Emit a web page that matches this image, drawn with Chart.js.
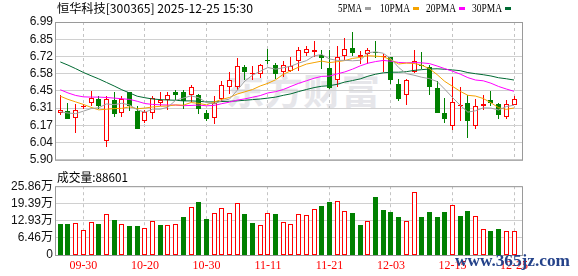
<!DOCTYPE html>
<html>
<head>
<meta charset="utf-8">
<script src="https://cdn.jsdelivr.net/npm/chart.js@4.4.1/dist/chart.umd.min.js"></script>
<style>
html, body { margin: 0; padding: 0; background: #fff; }
#wrap { position: relative; width: 578px; height: 276px; overflow: hidden; }
canvas { position: absolute; left: 0; }
.t { position: absolute; white-space: nowrap; transform-origin: 0 50%; }
.sw { position: absolute; top: 7px; width: 6px; height: 3px; }
</style>
</head>
<body>
<div id="wrap">
  <div id="wm" class="t" style="left:226px;top:70px;font:bold 36px/38px 'Noto Sans CJK SC';color:#e6e6ea;">东方财富</div>
  <canvas id="price" width="578" height="170" style="top:0"></canvas>
  <canvas id="vol" width="578" height="100" style="top:176px"></canvas>
  <div id="title" class="t" style="left:57px;top:1px;font:12px/14px 'Noto Sans CJK SC';color:#000;">恒华科技[300365] 2025-12-25 15:30</div>
  <div id="lg5" class="t" style="left:338px;top:1px;font:12px/14px 'Liberation Serif';">5PMA</div>
  <div class="sw" style="left:365px;background:#a0a0a0"></div>
  <div id="lg10" class="t" style="left:380px;top:1px;font:12px/14px 'Liberation Serif';">10PMA</div>
  <div class="sw" style="left:413px;background:#f5a300"></div>
  <div id="lg20" class="t" style="left:426px;top:1px;font:12px/14px 'Liberation Serif';">20PMA</div>
  <div class="sw" style="left:459px;background:#ff00ff"></div>
  <div id="lg30" class="t" style="left:472px;top:1px;font:12px/14px 'Liberation Serif';">30PMA</div>
  <div class="sw" style="left:505px;background:#006a33"></div>
  <div id="vtxt" class="t" style="left:57px;top:170px;font:12px/14px 'Noto Sans CJK SC';color:#000;">成交量:88601</div>
  <div id="site" class="t" style="left:455px;top:251px;font:bold 17px/19px 'Liberation Serif';color:#24428a;">www.365jz.com</div>
</div>
<script>
// tick labels
const tickIdx = [3, 11, 19, 27, 35, 43, 51, 59];
const tickDates = ['09-30', '10-20', '10-30', '11-11', '11-21', '12-03', '12-15', '12-25'];
const priceTickLabels = ['5.90', '6.04', '6.17', '6.31', '6.45', '6.58', '6.72', '6.85', '6.99'];
const volTickLabels = ['0', '6.46万', '12.93万', '19.39万', '25.86万'];

// daily candles
const open = [6.272, 6.287, 6.234, 6.315, 6.348, 6.378, 6.045, 6.373, 6.272, 6.434,
  6.285, 6.206, 6.272, 6.353, 6.373, 6.434, 6.439, 6.414, 6.414, 6.267,
  6.227, 6.378, 6.474, 6.474, 6.631, 6.575, 6.575, 6.692, 6.649, 6.593,
  6.601, 6.682, 6.745, 6.750, 6.732, 6.623, 6.530, 6.720, 6.783, 6.717,
  6.737, 6.755, 6.712, 6.712, 6.500, 6.416, 6.593, 6.649, 6.631, 6.464,
  6.267, 6.171, 6.323, 6.348, 6.171, 6.323, 6.373, 6.340, 6.239, 6.333];
const high = [6.414, 6.348, 6.340, 6.340, 6.446, 6.403, 6.403, 6.439, 6.403, 6.439,
  6.328, 6.297, 6.403, 6.439, 6.434, 6.449, 6.449, 6.494, 6.421, 6.297,
  6.403, 6.525, 6.593, 6.707, 6.649, 6.644, 6.661, 6.775, 6.666, 6.682,
  6.712, 6.795, 6.803, 6.841, 6.765, 6.765, 6.800, 6.866, 6.909, 6.762,
  6.783, 6.841, 6.737, 6.712, 6.537, 6.543, 6.765, 6.752, 6.649, 6.522,
  6.391, 6.555, 6.479, 6.409, 6.378, 6.414, 6.441, 6.348, 6.373, 6.403];
const low = [6.257, 6.224, 6.110, 6.302, 6.325, 6.302, 6.004, 6.239, 6.239, 6.285,
  6.141, 6.194, 6.224, 6.328, 6.290, 6.373, 6.302, 6.358, 6.262, 6.206,
  6.181, 6.358, 6.421, 6.454, 6.530, 6.535, 6.550, 6.661, 6.543, 6.555,
  6.593, 6.606, 6.720, 6.712, 6.618, 6.459, 6.479, 6.687, 6.720, 6.656,
  6.661, 6.707, 6.593, 6.497, 6.363, 6.333, 6.588, 6.618, 6.414, 6.269,
  6.194, 6.133, 6.206, 6.072, 6.141, 6.297, 6.328, 6.221, 6.224, 6.333];
const close = [6.295, 6.224, 6.295, 6.323, 6.388, 6.328, 6.378, 6.262, 6.378, 6.323,
  6.141, 6.277, 6.386, 6.373, 6.409, 6.411, 6.363, 6.472, 6.302, 6.219,
  6.353, 6.492, 6.535, 6.644, 6.593, 6.583, 6.649, 6.679, 6.580, 6.651,
  6.644, 6.770, 6.773, 6.770, 6.709, 6.467, 6.712, 6.778, 6.747, 6.732,
  6.768, 6.747, 6.720, 6.530, 6.383, 6.530, 6.682, 6.639, 6.474, 6.269,
  6.224, 6.358, 6.330, 6.206, 6.323, 6.340, 6.348, 6.252, 6.340, 6.378];

// moving averages as drawn
const ma5 = [6.280, 6.270, 6.265, 6.285, 6.305, 6.312, 6.342, 6.336, 6.347, 6.334,
  6.296, 6.276, 6.301, 6.300, 6.317, 6.371, 6.388, 6.406, 6.391, 6.353,
  6.342, 6.368, 6.380, 6.449, 6.523, 6.569, 6.601, 6.630, 6.617, 6.628,
  6.641, 6.665, 6.684, 6.722, 6.733, 6.698, 6.686, 6.687, 6.683, 6.687,
  6.747, 6.754, 6.743, 6.699, 6.630, 6.582, 6.569, 6.553, 6.542, 6.519,
  6.458, 6.393, 6.331, 6.277, 6.288, 6.311, 6.309, 6.294, 6.321, 6.332];
const ma10 = [6.403, 6.378, 6.358, 6.338, 6.315, 6.295, 6.300, 6.305, 6.307, 6.319,
  6.304, 6.309, 6.318, 6.323, 6.326, 6.334, 6.332, 6.353, 6.346, 6.335,
  6.357, 6.378, 6.393, 6.420, 6.438, 6.456, 6.484, 6.505, 6.533, 6.576,
  6.605, 6.633, 6.657, 6.669, 6.681, 6.669, 6.676, 6.685, 6.702, 6.710,
  6.723, 6.720, 6.715, 6.691, 6.658, 6.665, 6.662, 6.648, 6.621, 6.574,
  6.520, 6.481, 6.442, 6.410, 6.404, 6.385, 6.351, 6.312, 6.299, 6.310];
const ma20 = [6.454, 6.429, 6.409, 6.398, 6.396, 6.396, 6.393, 6.388, 6.383, 6.378,
  6.363, 6.345, 6.338, 6.335, 6.333, 6.333, 6.328, 6.330, 6.333, 6.327,
  6.330, 6.344, 6.356, 6.372, 6.382, 6.395, 6.408, 6.429, 6.439, 6.456,
  6.481, 6.505, 6.525, 6.545, 6.560, 6.562, 6.580, 6.595, 6.617, 6.643,
  6.664, 6.677, 6.686, 6.680, 6.670, 6.667, 6.669, 6.667, 6.661, 6.642,
  6.621, 6.601, 6.578, 6.550, 6.531, 6.525, 6.506, 6.480, 6.460, 6.442];
const ma30 = [6.674, 6.649, 6.621, 6.591, 6.565, 6.540, 6.512, 6.484, 6.454, 6.429,
  6.403, 6.391, 6.381, 6.376, 6.373, 6.371, 6.366, 6.366, 6.363, 6.358,
  6.358, 6.361, 6.363, 6.366, 6.371, 6.376, 6.381, 6.388, 6.396, 6.410,
  6.422, 6.440, 6.456, 6.471, 6.482, 6.486, 6.497, 6.515, 6.527, 6.540,
  6.561, 6.577, 6.588, 6.593, 6.593, 6.597, 6.607, 6.613, 6.618, 6.620,
  6.616, 6.611, 6.605, 6.590, 6.581, 6.573, 6.563, 6.549, 6.541, 6.531];

// volume in 万 shares, 1 = red (up) bar
const volume = [11.55, 11.55, 11.9, 9.3, 12.3, 11.55, 15.5, 13.0, 11.55, 10.8,
  10.8, 10.3, 12.9, 11.2, 11.2, 11.55, 14.2, 18.1, 19.75, 13.4,
  15.9, 17.8, 15.9, 19.6, 15.3, 11.9, 11.2, 15.9, 15.3, 12.3,
  11.7, 15.4, 15.0, 17.2, 18.5, 19.9, 20.2, 16.5, 15.9, 11.4,
  12.8, 21.8, 17.0, 16.2, 14.4, 12.8, 23.5, 14.4, 16.2, 14.4,
  16.2, 18.7, 14.8, 16.6, 14.6, 9.8, 9.2, 9.6, 9.1, 8.86];
const volUp = [0, 0, 1, 1, 1, 0, 1, 0, 1, 0,
  0, 1, 1, 0, 1, 1, 0, 1, 0, 0,
  1, 1, 1, 1, 0, 0, 1, 1, 0, 1,
  1, 1, 1, 1, 0, 0, 1, 1, 0, 0,
  1, 0, 0, 0, 0, 1, 1, 0, 0, 0,
  0, 1, 0, 0, 1, 1, 0, 0, 1, 1];

const RED = '#ff0000', GREEN = '#008000';
const xMin = -0.56, xMax = 60.04;
const yMin = 5.90, yMax = 6.99;
const vMax = 25.86;

Chart.defaults.font.family = "'Liberation Sans', 'Noto Sans CJK SC'";
Chart.defaults.font.size = 12;
Chart.defaults.color = '#111';

// grey frame round each panel
const frame = {
  id: 'frame',
  afterDraw(chart) {
    const { ctx, chartArea: a } = chart;
    ctx.save();
    ctx.strokeStyle = '#9a9a9a';
    ctx.lineWidth = 1;
    ctx.strokeRect(a.left - 0.5, a.top + 0.5, a.right - a.left + 1, a.bottom - a.top);
    ctx.restore();
  }
};

// put bar edges on whole pixels so the thin outlines stay sharp
const snapBars = {
  id: 'snapBars',
  beforeDatasetsDraw(chart) {
    chart.data.datasets.forEach((ds, di) => {
      const meta = chart.getDatasetMeta(di);
      if (meta.type !== 'bar') return;
      meta.data.forEach(el => {
        el.x = Math.floor(el.x) + 0.5;
        el.y = Math.round(el.y);
        el.base = Math.round(el.base);
      });
    });
  }
};

function xScale(showLabels) {
  return {
    type: 'linear', min: xMin, max: xMax, offset: false,
    afterBuildTicks: s => { s.ticks = tickIdx.map(v => ({ value: v })); },
    afterFit: s => { s.height = showLabels ? 21 : 0; },
    ticks: {
      display: showLabels, padding: 4, color: RED, maxRotation: 0, autoSkip: false,
      font: { family: "'Liberation Serif'", size: 12 },
      callback: (v, i) => tickDates[i]
    },
    grid: { color: '#c4c4c4', drawTicks: false, offset: false },
    border: { display: false, dash: [3, 3] }
  };
}

const up = i => close[i] >= open[i];
const pts = arr => arr.map((v, i) => ({ x: i, y: v }));
const maLine = (data, color) => ({
  type: 'line', data: pts(data), borderColor: color, borderWidth: 1,
  pointRadius: 0, tension: 0, order: 0
});

new Chart(document.getElementById('price'), {
  type: 'bar',
  data: {
    datasets: [
      maLine(ma5, '#a0a0a0'),
      maLine(ma10, '#f5a300'),
      maLine(ma20, '#ff00ff'),
      maLine(ma30, '#006a33'),
      {
        data: open.map((o, i) => ({ x: i, y: [o, close[i]] })),
        backgroundColor: open.map((o, i) => up(i) ? '#fff' : GREEN),
        borderColor: open.map((o, i) => up(i) ? RED : GREEN),
        borderWidth: 1, borderSkipped: false, barThickness: 5, minBarLength: 1,
        inflateAmount: 0, grouped: false, order: 1
      },
      {
        data: low.map((l, i) => ({ x: i, y: [l, high[i]] })),
        backgroundColor: low.map((l, i) => up(i) ? RED : GREEN),
        borderWidth: 0, barThickness: 1, inflateAmount: 0, grouped: false, order: 2
      }
    ]
  },
  options: {
    responsive: false, animation: false, events: [],
    layout: { padding: { top: 22, bottom: 5, left: 0, right: 56 } },
    plugins: { legend: { display: false }, tooltip: { enabled: false } },
    scales: {
      x: xScale(false),
      y: {
        min: yMin, max: yMax,
        afterBuildTicks: s => {
          const step = (yMax - yMin) / (priceTickLabels.length - 1);
          s.ticks = priceTickLabels.map((l, k) => ({ value: yMin + k * step }));
        },
        afterFit: s => { s.width = 56; },
        ticks: { padding: 3, autoSkip: false, callback: (v, i) => priceTickLabels[i] },
        grid: { color: '#d0d0d0', drawTicks: false },
        border: { display: false }
      }
    }
  },
  plugins: [snapBars, frame]
});

new Chart(document.getElementById('vol'), {
  type: 'bar',
  data: {
    datasets: [{
      data: pts(volume),
      backgroundColor: volUp.map(u => u ? '#fff' : GREEN),
      borderColor: volUp.map(u => u ? RED : GREEN),
      borderWidth: 1, borderSkipped: false, barThickness: 5, inflateAmount: 0
    }]
  },
  options: {
    responsive: false, animation: false, events: [],
    layout: { padding: { top: 10, bottom: 0, left: 0, right: 56 } },
    plugins: { legend: { display: false }, tooltip: { enabled: false } },
    scales: {
      x: xScale(true),
      y: {
        min: 0, max: vMax,
        afterBuildTicks: s => {
          const step = vMax / (volTickLabels.length - 1);
          s.ticks = volTickLabels.map((l, k) => ({ value: k * step }));
        },
        afterFit: s => { s.width = 56; },
        ticks: { padding: 3, autoSkip: false, callback: (v, i) => volTickLabels[i] },
        grid: { color: '#d0d0d0', drawTicks: false },
        border: { display: false }
      }
    }
  },
  plugins: [snapBars, frame]
});

// squeeze the texts to the widths they have in the picture
function fit(id, w) {
  const el = document.getElementById(id);
  const nat = el.getBoundingClientRect().width;
  el.style.transform = 'scaleX(' + (w / nat) + ')';
}
fit('title', 196);
fit('lg5', 24);
fit('lg10', 30);
fit('lg20', 30);
fit('lg30', 30);
fit('vtxt', 71);
fit('wm', 154);
fit('site', 115);
</script>
</body>
</html>
